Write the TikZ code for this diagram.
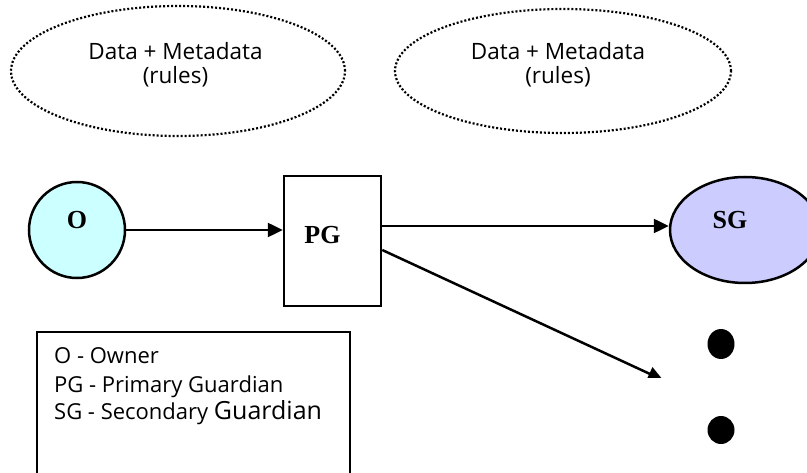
\documentclass[tikz,border=0pt]{standalone}
\usepackage{fontspec}
\setmainfont{Open Sans}
\newfontfamily\tms{Liberation Serif}
\usetikzlibrary{arrows.meta,shapes.geometric}
\definecolor{owner}{RGB}{204,255,255}
\definecolor{second}{RGB}{204,204,255}
\begin{document}
\begin{tikzpicture}[x=1pt,y=-1pt,
  cloud/.style={ellipse,draw,line width=2.2pt,dash pattern=on 2pt off 2pt,inner sep=0pt},
  cloudtext/.style={align=center,inner sep=0pt,font=\fontsize{22.5}{24}\selectfont},
  party/.style={draw,line width=2.5pt,inner sep=0pt},
  tag/.style={font=\tms\bfseries\fontsize{26}{30}\selectfont},
  flow/.style={line width=2.5pt,-{Triangle[length=15pt,width=14pt]}},
  dot/.style={ellipse,fill=black,inner sep=0pt}]
\useasboundingbox (0,0) rectangle (807,473);
\clip (0,0) rectangle (807,473);

% rule clouds
\node[cloud,minimum width=334pt,minimum height=130pt,
  label={[cloudtext,xshift=-2.5pt,yshift=6pt]center:Data + Metadata\\(rules)}]
  (d1) at (178,71) {};
\node[cloud,minimum width=336pt,minimum height=124pt,
  label={[cloudtext,xshift=-5pt,yshift=6pt]center:Data + Metadata\\(rules)}]
  (d2) at (563,71) {};

% parties
\node[party,circle,fill=owner,minimum size=96pt,
  label={[tag,yshift=10pt]center:O}] (o) at (77,230) {};
\node[party,rectangle,minimum width=97pt,minimum height=130pt,
  label={[tag,xshift=-10pt,yshift=6pt]center:PG}] (pg) at (332.5,241) {};
\node[party,ellipse,fill=second,minimum width=150pt,minimum height=106pt,
  label={[tag,xshift=-15pt,yshift=10pt]center:SG}] (sg) at (745,230) {};

% further guardians
\node[dot,minimum width=27pt,minimum height=30pt] (g1) at (721,344) {};
\node[dot,minimum width=27pt,minimum height=28pt] (g2) at (721,430) {};
\coordinate (more) at (663,380);

% hand-offs
\draw[flow] (o.east) -- (o.east -| pg.west);
\draw[flow] ([yshift=15pt]pg.east) -- ([yshift=15pt]pg.east -| sg.west);
\begin{scope}
  \clip (0,0) rectangle (807,378);
  \draw[flow] ([yshift=-9pt]pg.east) -- (more);
\end{scope}

% legend
\draw[line width=2.6pt] (37,500) |- (350,332) -- (350,500);
\node[anchor=base west,align=left,font=\fontsize{22}{28}\selectfont,inner sep=0pt]
  (key) at (54,420)
  {O - Owner\\PG - Primary Guardian\\SG - Secondary {\fontsize{25}{28}\selectfont Guardian}};
\end{tikzpicture}
\end{document}
